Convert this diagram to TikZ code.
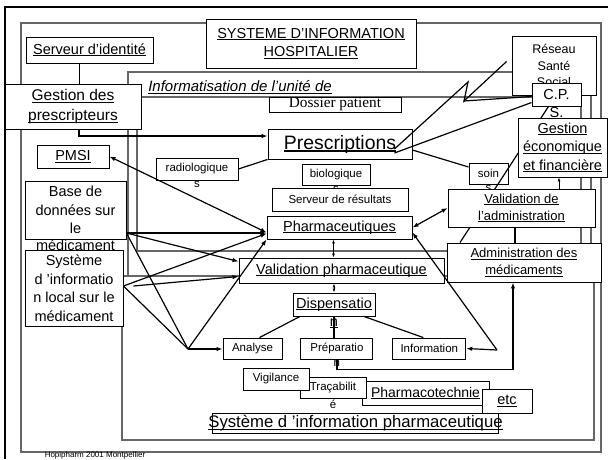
\documentclass[tikz,border=0pt]{standalone}
\usepackage{fontspec}
\setmainfont{Liberation Sans}
\newfontfamily\timesfont{Liberation Serif}
\usetikzlibrary{positioning}
\usetikzlibrary{arrows.meta}

\newcommand\ulin[1]{\setbox0=\hbox{#1}\rlap{\rule[-0.14em]{\wd0}{0.07em}}\box0}
\newcommand\fsm{\fontsize{11.5}{14}\selectfont}
\newcommand\fmd{\fontsize{13}{17}\selectfont}
\newcommand\fnm{\fontsize{14.5}{18.5}\selectfont}

\tikzset{
  box/.style={draw, fill=white, line width=0.9pt, inner sep=0pt, align=center, font=\fnm},
  sbox/.style={box, font=\fsm},
  mbox/.style={box, font=\fmd},
  frm/.style={draw=black!60, line width=1.3pt},
  link/.style={line width=1.2pt},
  wrap/.style={inner sep=0pt},
}

\begin{document}
\begin{tikzpicture}[x=1pt, y=-1pt, >={Latex[length=6pt,width=4.5pt]}]
\useasboundingbox (0,0) rectangle (608,459);

% cadres
\draw[line width=2.5pt] (5,459) -- (5,7) -- (608,7);
\draw[frm] (21,23) rectangle (601,452);
\draw[frm] (128,72) rectangle (591,276);
\draw[frm] (137,97) rectangle (581,251);
\draw[frm] (122,276) rectangle (594,440);

% systeme hospitalier
\node[box, minimum width=127pt, minimum height=26pt] (sid) at (89.5,50) {\ulin{Serveur d'identité}}; %
\node[box, minimum width=210pt, minimum height=49pt] (sih) at (311,43.5) {\ulin{SYSTEME D'INFORMATION}\\\ulin{HOSPITALIER}}; %
\node[box, font=\fontsize{15.5}{20}\selectfont, minimum width=136pt, minimum height=45pt] (gp) at (73,106.5) {\ulin{Gestion des}\\\ulin{prescripteurs}}; %
\node[box, minimum width=72pt, minimum height=23pt] (pmsi) at (73,156.5) {\ulin{PMSI}}; %
\node[box, minimum width=101pt, minimum height=58pt, label={[wrap, font=\fnm]below:médicament}] (bdm) at (75.5,210) {Base de\\données sur\\le}; %
\node[box, minimum width=98pt, minimum height=76pt] (sil) at (74,288) {Système\\d 'informatio\\n local sur le\\médicament}; %

% unite de soins
\node[font=\fontsize{15}{18}\selectfont\itshape] (uds) at (240,87) {\ulin{Informatisation de l'unité de}};
\node[box, font=\timesfont\fontsize{15.3}{18}\selectfont, minimum width=132pt, minimum height=15pt] (dos) at (335,104.5) {Dossier patient}; %
\node[box, font=\fontsize{19.4}{23}\selectfont, minimum width=144pt, minimum height=30pt] (presc) at (340,144) {\ulin{Prescriptions}}; %
\node[sbox, minimum width=82pt, minimum height=22pt, label={[wrap, font=\fsm, yshift=-1pt]below:s}] (radio) at (197,169) {radiologique}; %
\node[sbox, minimum width=68pt, minimum height=21pt, label={[wrap, font=\fsm, yshift=-1pt]below:s}] (bio) at (336,174.5) {biologique}; %
\node[sbox, minimum width=136pt, minimum height=23pt] (serv) at (340,199.5) {Serveur de résultats}; %
\node[box, minimum width=145pt, minimum height=23pt] (pharm) at (339.5,227.5) {\ulin{Pharmaceutiques}}; %
\node[box, minimum width=205pt, minimum height=25pt] (valph) at (341.5,270.5) {\ulin{Validation pharmaceutique}}; %

% dispensation
\node[box, minimum width=82pt, minimum height=23pt, label={[wrap, font=\fnm, yshift=-2pt]below:\ulin{n}}] (disp) at (334,304.5) {\ulin{Dispensatio}}; %
\node[sbox, minimum width=59pt, minimum height=21pt] (ana) at (252.5,348.5) {Analyse}; %
\node[sbox, minimum width=72pt, minimum height=21pt, right=18pt of ana, label={[wrap, font=\fsm, yshift=-1pt]below:n}] (prep) {Préparatio}; %
\node[sbox, minimum width=73pt, minimum height=21pt, right=19pt of prep] (info) {Information}; %
\node[box, font=\fontsize{14}{17}\selectfont, minimum width=127pt, minimum height=24pt] (pcot) at (425.5,393) {\ulin{Pharmacotechnie}}; %
\node[sbox, minimum width=66pt, minimum height=21pt, label={[wrap, font=\fsm, yshift=-1pt]below:é}] (trac) at (333,387.5) {Traçabilit}; %
\node[sbox, minimum width=66pt, minimum height=22pt] (vig) at (276,379) {Vigilance}; %
\node[box, minimum width=50pt, minimum height=24pt] (etc) at (507,401) {\ulin{etc}}; %
\node[box, font=\fontsize{16.7}{20}\selectfont, inner xsep=-4pt, minimum width=285pt, minimum height=20pt] (sip) at (355.5,423) {\ulin{Système d 'information pharmaceutique}}; %

% reseau et gestion
\node[box, font=\fontsize{12.5}{16.5}\selectfont, minimum width=84pt, minimum height=59pt] (rss) at (554,65.5) {Réseau\\Santé\\Social}; %
\node[box, minimum width=49pt, minimum height=23pt, label={[wrap, font=\fnm, yshift=-1pt]below:S.}] (cps) at (556.5,94.5) {C.P.}; %
\node[sbox, minimum width=39pt, minimum height=21pt, label={[wrap, font=\fsm, yshift=-1pt]below:s}] (soins) at (488.5,173.5) {soin}; %
\node[mbox, minimum width=154pt, minimum height=39pt] (adm) at (524,262.5) {\ulin{Administration des}\\\ulin{médicaments}}; %

\draw[link] ([xshift=-8pt]cps.south) -- ([xshift=-64pt]adm.north);

\node[box, minimum width=89pt, minimum height=59pt] (gef) at (562.5,147.5) {\ulin{Gestion}\\\ulin{économique}\\\ulin{et financière}}; %
\node[mbox, minimum width=147pt, minimum height=38pt] (vadm) at (521.5,208) {\ulin{Validation de}\\\ulin{l'administration}}; %

\node[font=\fontsize{8}{9}\selectfont] (hop) at (95,455) {Hopipharm 2001 Montpellier};

% liens du haut
\draw[link] ([xshift=-10pt]sid.south) -- ([xshift=-10pt]sid.south |- gp.north);
\draw[link, ->] ([xshift=6pt]gp.south) |- ([yshift=8pt]presc.west);
\coordinate (z1) at (464,101);
\coordinate (z2) at (468,82);
\draw[link] ([xshift=-5pt,yshift=4pt]rss.west) -- (z1) -- (z2) -- ([xshift=-18pt,yshift=-5pt]presc.east);
\draw[link] (z1) -- ([yshift=-2pt]cps.west);
\draw[link] ([yshift=-8pt]cps.west) -- ([xshift=-18pt,yshift=-9pt]presc.east);
\draw[link] ([yshift=-6pt]presc.east) -- ([yshift=6.5pt]soins.west);
\draw[link] (radio.east) -- (presc.south west);

% administration
\draw[link] ([xshift=-6.5pt]vadm.south) -- ([xshift=-6.5pt]vadm.south |- adm.north);
\draw[->, line width=0.7pt, >={Latex[length=4pt,width=3pt]}] ([xshift=37.5pt]vadm.north) -- ([xshift=37.5pt]vadm.north |- gef.south);
\draw[link, <->] (vadm.west) -- (pharm.east);
\coordinate (q) at (497,350);
\draw[link, ->] (q) -- ([yshift=-5pt]pharm.east);
\draw[link, ->] (q) -- (info.east);
\draw[link, ->] (prep.south) -- ++(0,10) -| ([xshift=-11pt]adm.south);

% circuit pharmaceutique
\draw[<->, line width=0.8pt, >={Latex[length=4pt,width=3pt]}] ([xshift=-6pt]pharm.south) -- ([xshift=-6pt]pharm.south |- valph.north);
\draw[<->, line width=0.8pt, >={Latex[length=4pt,width=3pt]}] (valph.south -| disp.north) -- (disp.north);
\draw[link] ([xshift=-34pt]disp.south) -- ([xshift=7pt]ana.north);
\draw[link] (disp.south) -- (disp.south |- prep.north);
\draw[link] ([xshift=30pt]disp.south) -- ([xshift=-6pt]info.north);

% bases sur le medicament
\coordinate (bdm-r) at ([yshift=-23pt]bdm.east);
\coordinate (sil-r) at ([yshift=2pt]sil.east);
\coordinate (fan) at (188,349);
\draw[link, <->] (pmsi.east) -- ([yshift=-5pt]pharm.west);
\draw[link, ->] (bdm-r) -- (bdm-r -| pharm.west);
\draw[link, ->] (bdm-r) -- ([yshift=9pt]valph.west);
\draw[link] (bdm-r) -- (fan);
\draw[link, ->] (sil-r) -- ([yshift=-6pt]pharm.west);
\draw[link, ->] ([xshift=10pt]sil-r) -- ([yshift=-6pt]valph.west);
\draw[link] (sil-r) -- (fan);
\draw[link, ->] (fan) -- (pharm.south west);
\draw[link, ->] (fan) -- (fan -| ana.west);
\end{tikzpicture}
\end{document}
